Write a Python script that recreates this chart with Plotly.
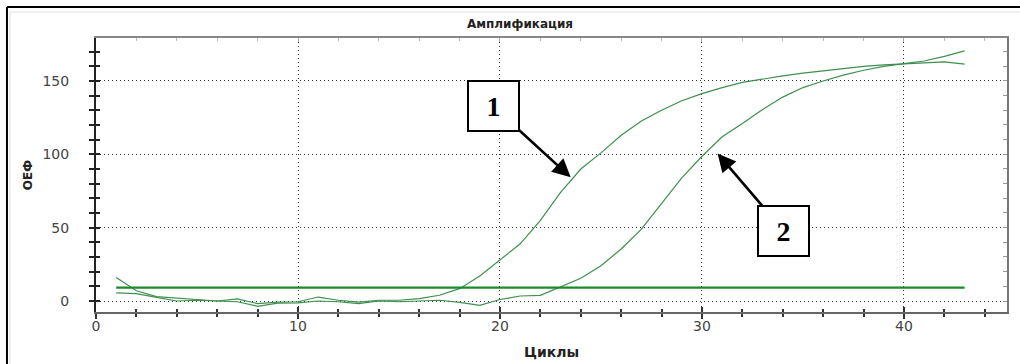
import plotly.graph_objects as go

# ---------------- data ----------------
cycles = list(range(1, 44))
curve1 = [16, 7, 3, 2, 1, 0, 1.5, -1.8, -0.7, -0.5, 2.7, 0.5, -0.7, 0.5, 0.5, 1.6,
          3.9, 8.4, 17, 27.7, 39, 55, 74, 90, 101, 113, 122.7, 130, 136.5, 141.4,
          145.5, 149, 151.5, 153.5, 155.3, 157, 158.5, 160, 161, 161.8, 162.5, 163, 161.5]
curve2 = [5.5, 5, 2.5, 0, 0.5, 0, -0.5, -3.6, -1.5, -1.3, 0, -0.5, -1.8, 0, -0.5, 0,
          0.5, -1, -3, 1, 3.4, 3.9, 9.5, 15.5, 24, 35.5, 49, 66.4, 84, 98.7,
          112, 121, 130.5, 139, 145.5, 150, 154, 157.3, 160, 161.8, 163.6, 166.8, 170.5]
threshold_cycles = [1, 43]
threshold_value = 9.1
label1_point = (23.5, 84.3)
label2_point = (30.77, 100.5)
labels = ["1", "2"]

title_text = "Амплификация"
x_title = "Циклы"
y_title = "ОЕФ"

x_range = [0, 45.1]
y_range = [-7.5, 179.3]

# ---------------- layout geometry ----------------
W, H = 1020, 364
ML, MR, MT, MB = 96, 13.3, 38, 52.3
PW, PH = W - ML - MR, H - MT - MB


def px_x(p):
    return (p - ML) / PW


def px_y(p):
    return (H - MB - p) / PH


curve_color = "#3f8f4f"
thr_color = "#1b8a2a"

fig = go.Figure()
fig.add_trace(go.Scatter(x=cycles, y=curve1, mode="lines",
                         line=dict(color=curve_color, width=1.2), showlegend=False))
fig.add_trace(go.Scatter(x=cycles, y=curve2, mode="lines",
                         line=dict(color=curve_color, width=1.2), showlegend=False))
fig.add_trace(go.Scatter(x=threshold_cycles, y=[threshold_value] * len(threshold_cycles),
                         mode="lines", line=dict(color=thr_color, width=2.2), showlegend=False))
# helper traces so overlay axes (crossing ticks / top & right frame) get drawn
fig.add_trace(go.Scatter(x=[None], y=[None], xaxis="x2", yaxis="y2", showlegend=False, hoverinfo="skip"))
fig.add_trace(go.Scatter(x=[None], y=[None], xaxis="x3", yaxis="y3", showlegend=False, hoverinfo="skip"))

tickfont = dict(family="DejaVu Sans", size=14, color="#444444")
grid = dict(showgrid=True, gridcolor="#333333", gridwidth=1, griddash="1px,3px")

fig.update_layout(
    width=W, height=H,
    margin=dict(l=ML, r=MR, t=MT, b=MB, pad=0, autoexpand=False),
    paper_bgcolor="white", plot_bgcolor="white",
    title=dict(text="<b>" + title_text + "</b>", x=520 / W, xref="container", xanchor="center",
               y=1 - 24 / H, yref="container", yanchor="middle",
               font=dict(family="DejaVu Sans", size=12, color="#222222")),
    xaxis=dict(range=x_range, dtick=10, tick0=0, ticks="outside", ticklen=5, tickwidth=1.5,
               tickcolor="#333333", showline=True, linecolor="#666666", linewidth=2,
               minor=dict(dtick=2, ticks="outside", ticklen=3, tickwidth=1.5, tickcolor="#333333",
                          showgrid=False),
               tickfont=tickfont, ticklabelstandoff=-5, zeroline=False, automargin=False,
               title=dict(text="<b>" + x_title + "</b>", standoff=14,
                          font=dict(family="DejaVu Sans", size=14, color="#222222")),
               **grid),
    yaxis=dict(range=y_range, dtick=50, tick0=0, ticks="outside", ticklen=5, tickwidth=1.5,
               tickcolor="#222222", showline=True, linecolor="#222222", linewidth=2,
               minor=dict(dtick=10, ticks="outside", ticklen=5, tickwidth=1.5, tickcolor="#222222"),
               tickfont=tickfont, ticklabelstandoff=17, zeroline=False, automargin=False,
               title=dict(text="<b>" + y_title + "</b>", standoff=7,
                          font=dict(family="DejaVu Sans", size=12, color="#222222")),
               **grid),
    xaxis2=dict(range=x_range, overlaying="x", anchor="y2", side="bottom", dtick=10, tick0=0,
                ticks="inside", ticklen=5, tickwidth=1.5, tickcolor="#333333", automargin=False,
                minor=dict(dtick=2, ticks="inside", ticklen=3, tickwidth=1.5, tickcolor="#333333"),
                showticklabels=False, showgrid=False, showline=False, zeroline=False),
    yaxis2=dict(range=y_range, overlaying="y", anchor="x2", side="left", dtick=50, tick0=0,
                ticks="inside", ticklen=4, tickwidth=1.5, tickcolor="#222222", automargin=False,
                minor=dict(dtick=10, ticks="inside", ticklen=4, tickwidth=1.5, tickcolor="#222222"),
                showticklabels=False, showgrid=False, showline=False, zeroline=False),
    xaxis3=dict(range=x_range, overlaying="x", anchor="y3", side="top", dtick=10, tick0=0,
                ticks="inside", ticklen=4, tickwidth=1, tickcolor="#aaaaaa", automargin=False,
                minor=dict(dtick=2, ticks="inside", ticklen=3, tickwidth=1, tickcolor="#bbbbbb"),
                showticklabels=False, showgrid=False, showline=True, linecolor="#888888",
                linewidth=1.5, zeroline=False),
    yaxis3=dict(range=y_range, overlaying="y", anchor="x3", side="right", dtick=50, tick0=0,
                ticks="inside", ticklen=4, tickwidth=1, tickcolor="#999999", automargin=False,
                minor=dict(dtick=10, ticks="inside", ticklen=4, tickwidth=1, tickcolor="#999999"),
                showticklabels=False, showgrid=False, showline=True, linecolor="#777777",
                linewidth=2, zeroline=False),
)

# numbered callout boxes with arrows
box_font = dict(family="Liberation Serif", size=28, color="black")
fig.add_annotation(x=label1_point[0], y=label1_point[1], xref="x", yref="y",
                   text="<b>" + labels[0] + "</b>", font=box_font,
                   ax=-77.5, ay=-71, showarrow=True, arrowhead=2, arrowsize=1.4,
                   arrowwidth=2.6, arrowcolor="black", standoff=0,
                   width=49, height=48, bgcolor="white", bordercolor="black",
                   borderwidth=2, borderpad=0, align="center", valign="middle")
fig.add_annotation(x=label2_point[0], y=label2_point[1], xref="x", yref="y",
                   text="<b>" + labels[1] + "</b>", font=box_font,
                   ax=66, ay=77, showarrow=True, arrowhead=2, arrowsize=1.4,
                   arrowwidth=2.6, arrowcolor="black", standoff=0,
                   width=49, height=48, bgcolor="white", bordercolor="black",
                   borderwidth=2, borderpad=0, align="center", valign="middle")

# outer frame (top and left edges of the screenshot)
fig.add_shape(type="line", xref="paper", yref="paper", x0=px_x(7), x1=px_x(W), y0=px_y(7), y1=px_y(7),
              line=dict(color="black", width=2))
fig.add_shape(type="line", xref="paper", yref="paper", x0=px_x(7), x1=px_x(7), y0=px_y(7), y1=px_y(H),
              line=dict(color="black", width=2))
fig.add_shape(type="line", xref="paper", yref="paper", x0=px_x(10), x1=px_x(W), y0=px_y(12), y1=px_y(12),
              line=dict(color="#e2e2e2", width=1))
fig.add_shape(type="line", xref="paper", yref="paper", x0=px_x(10), x1=px_x(10), y0=px_y(12), y1=px_y(H),
              line=dict(color="#e2e2e2", width=1))

fig.write_html("out.html")
